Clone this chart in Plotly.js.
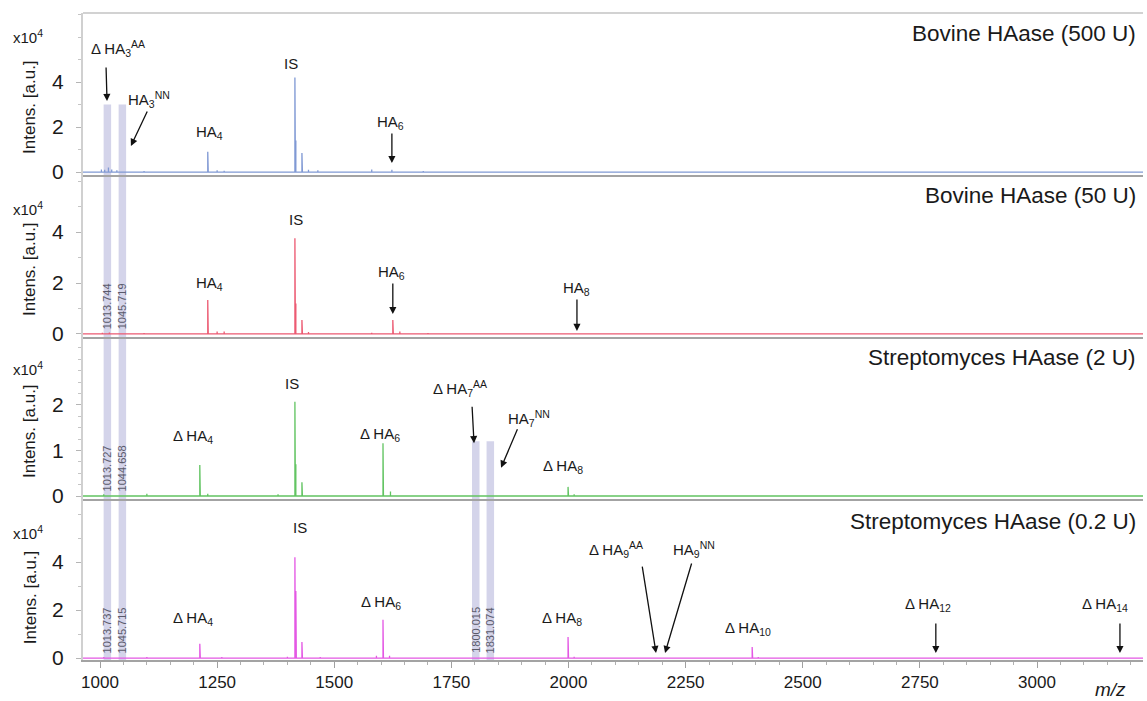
<!DOCTYPE html>
<html>
<head>
<meta charset="utf-8">
<script src="https://cdn.plot.ly/plotly-3.0.1.min.js"></script>
<style>html,body{margin:0;padding:0;background:#fff;}#chart{width:1147px;height:701px;}</style>
</head>
<body>
<div id="chart"></div>
<script>
// ---------- data ----------
const panelTitles = ["Bovine HAase (500 U)", "Bovine HAase (50 U)", "Streptomyces HAase (2 U)", "Streptomyces HAase (0.2 U)"];
const traceColors = ["#8099d4", "#ec5a72", "#62c462", "#e458e4"];

// peak lists (m/z, intensity x10^4)
const mz1  = [1003, 1010, 1018, 1025, 1036, 1094, 1230, 1231, 1250, 1265, 1416, 1417, 1418, 1431, 1432, 1445, 1465, 1580, 1623, 1690];
const int1 = [0.12, 0.10, 0.20, 0.12, 0.08, 0.05, 0.90, 0.50, 0.08, 0.06, 4.20, 3.00, 1.40, 0.85, 0.40, 0.10, 0.08, 0.12, 0.10, 0.05];

const mz2  = [1005, 1020, 1094, 1230, 1231, 1250, 1265, 1416, 1417, 1418, 1431, 1432, 1445, 1580, 1625, 1626, 1640, 1700, 2018];
const int2 = [0.05, 0.06, 0.04, 1.33, 0.70, 0.10, 0.10, 3.76, 2.70, 1.20, 0.55, 0.30, 0.08, 0.05, 0.55, 0.25, 0.10, 0.04, 0.03];

const mz3  = [1008, 1100, 1213, 1214, 1230, 1380, 1416, 1417, 1418, 1431, 1432, 1604, 1605, 1620, 1999, 2000, 2012];
const int3 = [0.04, 0.05, 0.68, 0.35, 0.05, 0.04, 2.07, 1.45, 0.70, 0.30, 0.15, 1.16, 0.60, 0.10, 0.20, 0.10, 0.04];

const mz4  = [1008, 1100, 1213, 1214, 1260, 1400, 1416, 1417, 1418, 1419, 1431, 1432, 1470, 1590, 1604, 1605, 1618, 1999, 2000, 2012, 2392, 2393, 2405];
const int4 = [0.05, 0.05, 0.60, 0.42, 0.05, 0.06, 4.20, 4.00, 2.80, 1.00, 0.67, 0.30, 0.05, 0.10, 1.60, 0.80, 0.10, 0.88, 0.40, 0.06, 0.46, 0.20, 0.05];

// highlighted m/z bands
const bandsA = [1013.744, 1045.719];        // start in panel 1
const bandsAHeight = 3.0;                   // intensity in panel 1
const bandsB = [1800.015, 1831.074];        // start in panel 3
const bandsBHeight = 1.2;                   // intensity in panel 3
const bandLabels2 = ["1013.744", "1045.719"];
const bandLabels3 = ["1013.727", "1044.658"];
const bandLabels4 = ["1013.737", "1045.715", "1800.015", "1831.074"];

const xTicks = [1000, 1250, 1500, 1750, 2000, 2250, 2500, 2750, 3000];
const yTickSets = [[0, 2, 4], [0, 2, 4], [0, 1, 2], [0, 2, 4]];

// ---------- layout constants ----------
const mzRange = [963.7, 3226.2];
const yRanges = [[-0.13, 7.07], [-0.12, 6.24], [-0.066, 3.49], [-0.08, 6.63]];
const domains = [[0.7496, 1], [0.4992, 0.7496], [0.2488, 0.4992], [0, 0.2488]];
const FONT = "Liberation Sans, Arial, Helvetica, sans-serif";

const peaks = [[mz1, int1], [mz2, int2], [mz3, int3], [mz4, int4]];

function stickTrace(mz, inten, idx) {
  const order = mz.map((m, i) => i).sort((a, b) => mz[a] - mz[b]);
  const x = [mzRange[0]], y = [0];
  order.forEach(i => { x.push(mz[i], mz[i], mz[i]); y.push(0, inten[i], 0); });
  x.push(mzRange[1]); y.push(0);
  const s = idx === 0 ? "" : String(idx + 1);
  return {x, y, type: "scatter", mode: "lines", xaxis: "x" + s, yaxis: "y" + s,
    line: {color: traceColors[idx], width: 1.3}, hoverinfo: "skip", showlegend: false};
}
const data = peaks.map((p, i) => stickTrace(p[0], p[1], i));

const layout = {
  width: 1147, height: 701,
  margin: {l: 83, r: 4, t: 13, b: 41},
  paper_bgcolor: "#fff", plot_bgcolor: "rgba(0,0,0,0)",
  font: {family: FONT, color: "#1a1a1a"},
  showlegend: false,
  shapes: [], annotations: []
};

for (let i = 0; i < 4; i++) {
  const s = i === 0 ? "" : String(i + 1);
  const xa = {
    domain: [0, 1], anchor: "y" + s, range: mzRange, showgrid: false, zeroline: false,
    showline: true, linecolor: "#a3a3a3", linewidth: 2, fixedrange: true
  };
  if (i === 3) {
    Object.assign(xa, {
      tickvals: xTicks, ticktext: xTicks.map(String), ticks: "outside", ticklen: 6, tickcolor: "#a0a0a0",
      tickfont: {size: 17, color: "#1a1a1a", family: FONT},
      minor: {ticks: "outside", dtick: 50, tick0: 1000, ticklen: 3, tickcolor: "#b0b0b0"}
    });
  } else {
    Object.assign(xa, {showticklabels: false, ticks: ""});
  }
  layout["xaxis" + s] = xa;
  layout["yaxis" + s] = {
    domain: domains[i], anchor: "x" + s, range: yRanges[i], showgrid: false, zeroline: false,
    showline: true, linecolor: "#d0d0d0", linewidth: 2,
    tickvals: yTickSets[i], ticktext: yTickSets[i].map(String),
    ticks: "outside", ticklen: 5, tickcolor: "#b5b5b5",
    ticklabelstandoff: 8,
    minor: {ticks: "outside", dtick: i === 2 ? 0.25 : 1, tick0: 0, ticklen: 3, tickcolor: "#c5c5c5"},
    tickfont: {size: 21, color: "#1a1a1a", family: FONT}, fixedrange: true
  };
  // panel title
  layout.annotations.push({text: panelTitles[i], xref: "paper", yref: "y" + s + " domain",
    x: 0.995, y: i === 3 ? 0.86 : 0.875, xanchor: "right", yanchor: "middle", showarrow: false,
    font: {size: 22.5, color: "#1a1a1a", family: FONT}});
  // y label
  layout.annotations.push({text: "Intens. [a.u.]", xref: "paper", yref: "y" + s + " domain",
    x: -0.05, y: i === 3 ? 0.39 : 0.42, textangle: -90, xanchor: "center", yanchor: "middle", showarrow: false,
    font: {size: 17, color: "#1a1a1a", family: FONT}});
  const expOff = [23, 33, 31, 34][i];
  layout.annotations.push({text: "x10<sup>4</sup>", xref: "paper", yref: "y" + s + " domain",
    x: -0.052, y: 1 - expOff / 162, xanchor: "center", yanchor: "middle", showarrow: false,
    font: {size: 15, color: "#1a1a1a", family: FONT}});
}

// top frame line
layout.shapes.push({type: "line", xref: "paper", yref: "paper", x0: 0, x1: 1, y0: 1, y1: 1,
  line: {color: "#d2d2d2", width: 2}});

// bands
function paperY(panel, val) {
  const d = domains[panel], r = yRanges[panel];
  return d[0] + (val - r[0]) / (r[1] - r[0]) * (d[1] - d[0]);
}
const bandColor = "rgba(205,205,230,0.85)";
bandsA.forEach(m => layout.shapes.push({type: "rect", xref: "x4", yref: "paper", x0: m - 6, x1: m + 10,
  y0: 0, y1: paperY(0, bandsAHeight), fillcolor: bandColor, line: {width: 0}, layer: "below"}));
bandsB.forEach(m => layout.shapes.push({type: "rect", xref: "x4", yref: "paper", x0: m - 6, x1: m + 10,
  y0: 0, y1: paperY(2, bandsBHeight), fillcolor: bandColor, line: {width: 0}, layer: "below"}));

// band value labels
function bandLabel(panel, mzc, txt) {
  const s = panel === 0 ? "" : String(panel + 1);
  layout.annotations.push({text: txt, xref: "x" + s, yref: "y" + s, x: mzc + 2, y: 0,
    textangle: -90, xanchor: "center", yanchor: "bottom", yshift: 3, showarrow: false,
    font: {size: 11, color: "#5a5a6a", family: FONT}});
}
bandLabels2.forEach((t, k) => bandLabel(1, bandsA[k], t));
bandLabels3.forEach((t, k) => bandLabel(2, bandsA[k], t));
bandLabels4.forEach((t, k) => bandLabel(3, k < 2 ? bandsA[k] : bandsB[k - 2], t));

// peak labels and arrows
function lab(panel, x, y, txt) {
  const s = panel === 0 ? "" : String(panel + 1);
  layout.annotations.push({text: txt, xref: "x" + s, yref: "y" + s, x, y, showarrow: false,
    xanchor: "center", yanchor: "middle", font: {size: 15, color: "#1a1a1a", family: FONT}});
}
function arrow(panel, x, y, ax, ay) {
  const s = panel === 0 ? "" : String(panel + 1);
  layout.annotations.push({text: "", xref: "x" + s, yref: "y" + s, x, y, ax, ay, showarrow: true,
    arrowhead: 2, arrowsize: 1.1, arrowwidth: 1.3, arrowcolor: "#111"});
}
// panel 1
lab(0, 1038.4, 5.51, "Δ HA<sub>3</sub><sup>AA</sup>"); arrow(0, 1015, 3.16, -1, -35);
lab(0, 1104.6, 3.24, "HA<sub>3</sub><sup>NN</sup>");  arrow(0, 1066, 1.16, 17, -36);
lab(0, 1232.7, 1.78, "HA<sub>4</sub>");
lab(0, 1407.7, 4.84, "IS");
lab(0, 1621, 2.22, "HA<sub>6</sub>");               arrow(0, 1623, 0.40, 0, -31);
// panel 2
lab(1, 1232.7, 2.0, "HA<sub>4</sub>");
lab(1, 1418.4, 4.51, "IS");
lab(1, 1623, 2.43, "HA<sub>6</sub>");               arrow(1, 1625, 0.78, 0, -32);
lab(1, 2016, 1.80, "HA<sub>8</sub>");               arrow(1, 2018, 0.12, 0, -33);
// panel 3
lab(2, 1198.5, 1.30, "Δ HA<sub>4</sub>");
lab(2, 1409.8, 2.48, "IS");
lab(2, 1597.7, 1.36, "Δ HA<sub>6</sub>");
lab(2, 1768.4, 2.37, "Δ HA<sub>7</sub><sup>AA</sup>"); arrow(2, 1798.3, 1.16, -2, -38);
lab(2, 1915.7, 1.71, "HA<sub>7</sub><sup>NN</sup>");   arrow(2, 1856, 0.62, 17, -40);
lab(2, 1988.3, 0.64, "Δ HA<sub>8</sub>");
// panel 4
lab(3, 1426.9, 5.46, "IS");
lab(3, 1198.5, 1.67, "Δ HA<sub>4</sub>");
lab(3, 1599.8, 2.33, "Δ HA<sub>6</sub>");
lab(3, 1986, 1.67, "Δ HA<sub>8</sub>");
lab(3, 2101.4, 4.54, "Δ HA<sub>9</sub><sup>AA</sup>"); arrow(3, 2186.8, 0.21, -14, -88);
lab(3, 2267.9, 4.54, "HA<sub>9</sub><sup>NN</sup>");   arrow(3, 2206, 0.21, 27, -91);
lab(3, 2383, 1.25, "Δ HA<sub>10</sub>");
lab(3, 2767, 2.25, "Δ HA<sub>12</sub>");            arrow(3, 2784, 0.21, 0, -31);
lab(3, 3145, 2.25, "Δ HA<sub>14</sub>");            arrow(3, 3177, 0.21, 0, -31);

// m/z axis label
layout.annotations.push({text: "<i>m/z</i>", xref: "paper", yref: "paper", x: 0.969, y: -0.045,
  xanchor: "center", yanchor: "middle", showarrow: false, font: {size: 19, color: "#1a1a1a", family: FONT}});

Plotly.newPlot("chart", data, layout, {displayModeBar: false, staticPlot: true});
</script>
</body>
</html>
